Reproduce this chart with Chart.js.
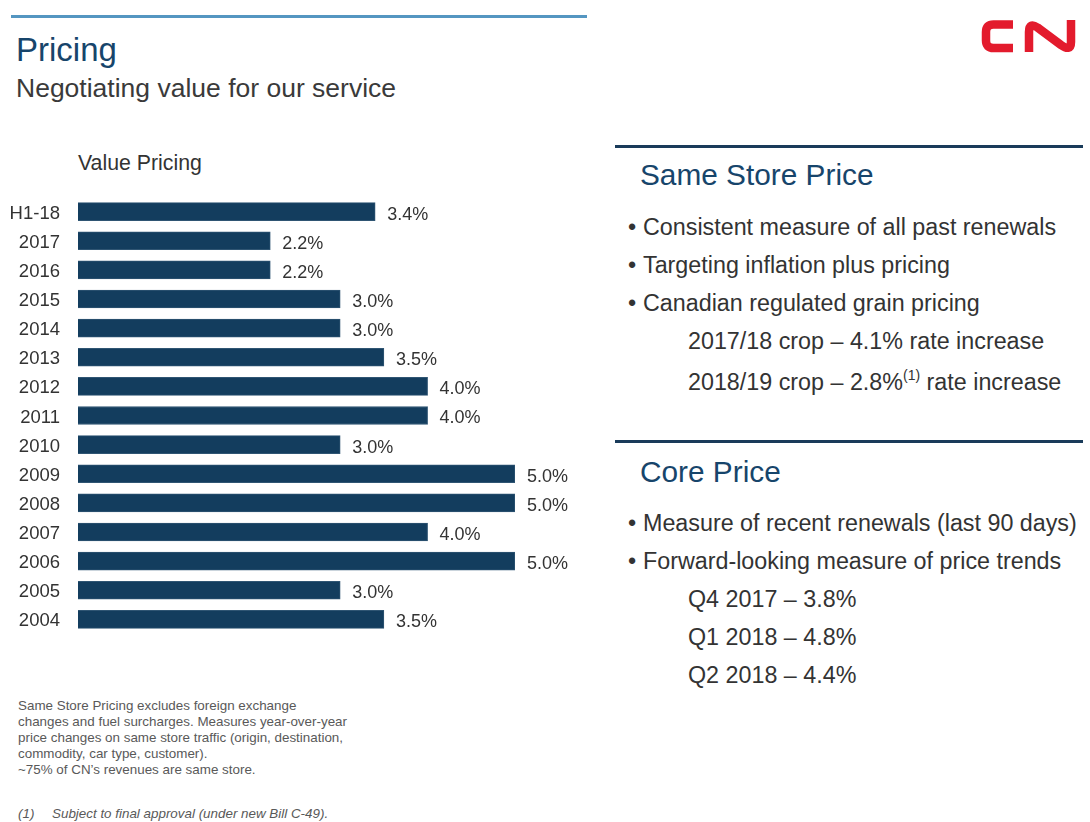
<!DOCTYPE html>
<html>
<head>
<meta charset="utf-8">
<script src="https://cdn.jsdelivr.net/npm/chart.js@4"></script>
<style>
  body { margin: 0; background: #fff; font-family: "Liberation Sans", Arial, sans-serif; }
  #page { position: relative; width: 1090px; height: 822px; overflow: hidden; }
  .abs { position: absolute; white-space: nowrap; line-height: 1; }
  .rule { position: absolute; }
  .blt { position: absolute; font-size: 23.3px; color: #333; line-height: 1; white-space: nowrap; }
  .blt .dot { position: absolute; left: -15px; }
  .note { position: absolute; left: 18px; font-size: 13.4px; color: #595959; line-height: 16px; white-space: nowrap; }
</style>
</head>
<body>
<div id="page">
  <div class="rule" style="left:11px; top:15px; width:576px; height:3px; background:#5496c1;"></div>
  <div class="abs" style="left:16px; top:33px; font-size:33px; color:#17456b;">Pricing</div>
  <div class="abs" style="left:16px; top:75px; font-size:26.5px; color:#3a3a3a;">Negotiating value for our service</div>

  <svg style="position:absolute; left:0; top:0;" width="1090" height="80">
    <path d="M1013,24.5 H993.5 Q986,24.5 986,32 V40.5 Q986,48 993.5,48 H1013" fill="none" stroke="#e31b2d" stroke-width="8.5"/>
    <path d="M1029,52 V32 Q1029,22 1037.5,27.5 L1061,45 Q1071,52 1071,42 V20" fill="none" stroke="#e31b2d" stroke-width="8.5" stroke-linejoin="round"/>
  </svg>

  <div class="abs" style="left:78px; top:153px; font-size:21.3px; color:#333;">Value Pricing</div>

  <canvas id="barChart" width="600" height="495" style="position:absolute; left:0; top:168px;"></canvas>

  <div class="note" style="top:698px;">
    Same Store Pricing excludes foreign exchange<br>
    changes and fuel surcharges. Measures year-over-year<br>
    price changes on same store traffic (origin, destination,<br>
    commodity, car type, customer).<br>
    ~75% of CN’s revenues are same store.
  </div>
  <div class="abs" style="left:18px; top:807px; font-size:13.4px; color:#595959; font-style:italic;">(1)</div>
  <div class="abs" style="left:52px; top:807px; font-size:13.4px; color:#595959; font-style:italic;">Subject to final approval (under new Bill C-49).</div>

  <div class="rule" style="left:615px; top:145px; width:468px; height:3px; background:#1a3b5a;"></div>
  <div class="abs" style="left:640px; top:160px; font-size:29.8px; color:#17456b;">Same Store Price</div>
  <div class="blt" style="left:643px; top:216px;"><span class="dot">•</span>Consistent measure of all past renewals</div>
  <div class="blt" style="left:643px; top:254px;"><span class="dot">•</span>Targeting inflation plus pricing</div>
  <div class="blt" style="left:643px; top:292px;"><span class="dot">•</span>Canadian regulated grain pricing</div>
  <div class="blt" style="left:688px; top:330px;">2017/18 crop – 4.1% rate increase</div>
  <div class="blt" style="left:688px; top:368px;">2018/19 crop – 2.8%<sup style="font-size:14px; vertical-align:10px;">(1)</sup> rate increase</div>

  <div class="rule" style="left:615px; top:440px; width:468px; height:3px; background:#1a3b5a;"></div>
  <div class="abs" style="left:640px; top:457px; font-size:29.8px; color:#17456b;">Core Price</div>
  <div class="blt" style="left:643px; top:512px;"><span class="dot">•</span>Measure of recent renewals (last 90 days)</div>
  <div class="blt" style="left:643px; top:550px;"><span class="dot">•</span>Forward-looking measure of price trends</div>
  <div class="blt" style="left:688px; top:588px;">Q4 2017 – 3.8%</div>
  <div class="blt" style="left:688px; top:626px;">Q1 2018 – 4.8%</div>
  <div class="blt" style="left:688px; top:664px;">Q2 2018 – 4.4%</div>
</div>

<script>
  // Value pricing by period (%)
  const periods = ["H1-18", "2017", "2016", "2015", "2014", "2013", "2012", "2011",
                   "2010", "2009", "2008", "2007", "2006", "2005", "2004"];
  const pricing = [3.4, 2.2, 2.2, 3.0, 3.0, 3.5, 4.0, 4.0, 3.0, 5.0, 5.0, 4.0, 5.0, 3.0, 3.5];

  // draw "x.x%" right of each bar
  const valueLabels = {
    id: "valueLabels",
    afterDatasetsDraw(chart) {
      const ctx = chart.ctx;
      const meta = chart.getDatasetMeta(0);
      ctx.save();
      ctx.font = '18px "Liberation Sans", Arial, sans-serif';
      ctx.fillStyle = "#333";
      ctx.textAlign = "left";
      ctx.textBaseline = "middle";
      meta.data.forEach((bar, i) => {
        ctx.fillText(pricing[i].toFixed(1) + "%", bar.x + 12, bar.y + 3);
      });
      ctx.restore();
    }
  };

  const ctx = document.getElementById("barChart").getContext("2d");
  new Chart(ctx, {
    type: "bar",
    data: {
      labels: periods,
      datasets: [{
        data: pricing,
        backgroundColor: "#133d5e",
        borderColor: "#2f5573",
        borderWidth: 1,
        barThickness: 18,
      }],
    },
    options: {
      indexAxis: "y",
      responsive: false,
      animation: false,
      layout: { padding: { top: 0, bottom: 0, left: 0, right: 85 } },
      plugins: { legend: { display: false }, tooltip: { enabled: false } },
      scales: {
        x: { display: false, min: 0, max: 5 },
        y: {
          afterFit(scale) { scale.width = 78; },
          grid: { display: false, drawTicks: false },
          border: { display: false },
          ticks: {
            autoSkip: false,
            padding: 18,
            labelOffset: 2,
            color: "#333",
            font: { family: "Liberation Sans", size: 18.5 },
          },
        },
      },
    },
    plugins: [valueLabels],
  });
</script>
</body>
</html>
